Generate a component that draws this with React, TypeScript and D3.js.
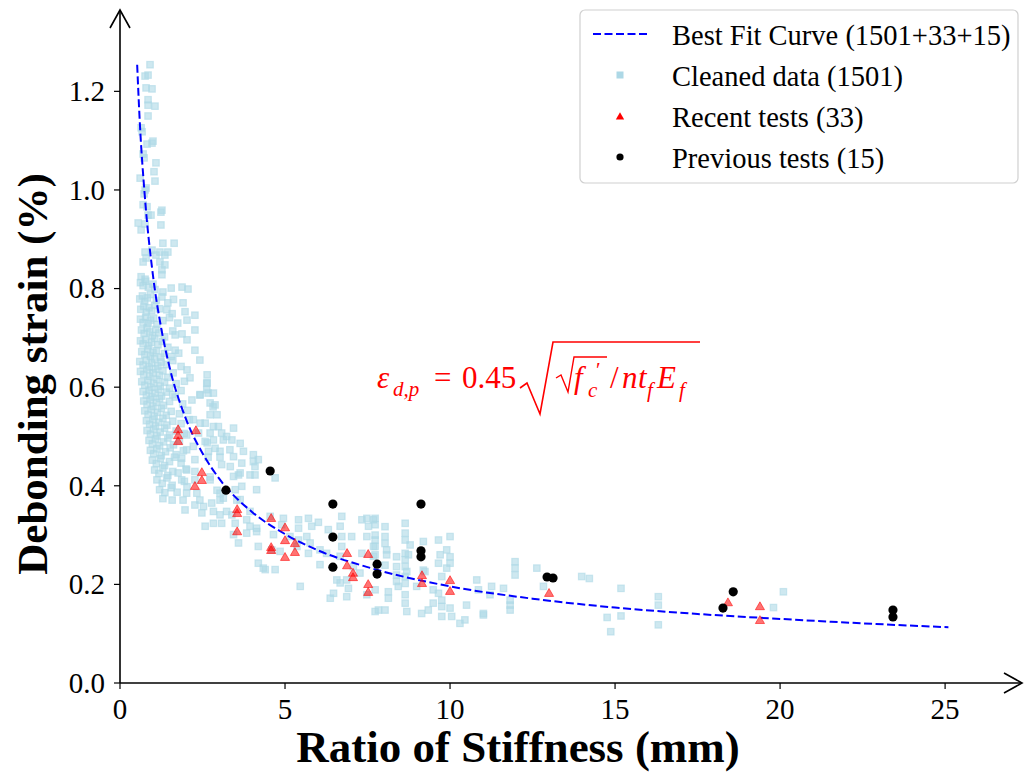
import React from 'react';
import * as d3 from 'd3';

// Cleaned data (light blue squares)
const cleanedData: [number, number][] = [
  // top of the cloud
  [0.91,1.254],[0.76,1.231],[0.85,1.233],[0.79,1.207],[0.97,1.205],[0.85,1.183],[0.85,1.172],[1.06,1.170],
  [0.85,1.150],[0.64,1.126],[0.67,1.118],[0.82,1.093],[0.97,1.095],[1.0,1.099],[0.70,1.073],[0.73,1.065],
  [1.09,1.055],[1.03,1.037],[1.06,1.018],[0.61,1.024],[0.79,1.004],[0.73,0.992],[0.76,1.000],[0.70,0.970],
  [0.82,0.966],[0.85,0.949],[0.94,0.949],[1.24,0.955],[1.27,0.959],[1.24,0.929],[0.55,0.933],[0.64,0.919],
  [0.76,0.931],[1.30,0.892],[1.64,0.892],[0.76,0.874],[0.97,0.878],[1.09,0.868],[1.21,0.874],[1.36,0.868],
  [1.45,0.874],[0.70,0.854],[0.79,0.862],[1.21,0.854],[1.36,0.848],[1.27,0.838],[1.27,0.828],[0.64,0.824],[0.76,0.819],
  // dense core
  [0.62,0.812],[0.70,0.806],[0.78,0.815],[0.86,0.803],[1.0,0.809],[1.06,0.798],[1.30,0.793],[1.55,0.801],[1.88,0.803],[2.06,0.799],
  [0.60,0.779],[0.68,0.785],[0.75,0.774],[0.83,0.781],[0.92,0.788],[1.10,0.776],[1.27,0.783],[1.45,0.771],[1.62,0.778],[1.91,0.771],
  [0.63,0.758],[0.72,0.764],[0.80,0.752],[0.88,0.761],[0.96,0.755],[1.05,0.766],[1.20,0.759],[1.42,0.757],[1.58,0.749],[1.97,0.753],[2.27,0.746],
  [0.62,0.738],[0.70,0.731],[0.78,0.742],[0.85,0.729],[0.93,0.736],[1.02,0.740],[1.12,0.727],[1.30,0.735],[1.50,0.741],[1.75,0.730],[2.03,0.736],
  [0.65,0.716],[0.73,0.709],[0.82,0.720],[0.90,0.712],[0.98,0.705],[1.08,0.717],[1.18,0.710],[1.35,0.702],[1.60,0.714],[1.88,0.708],[2.27,0.716],
  [0.62,0.694],[0.70,0.688],[0.78,0.697],[0.87,0.684],[0.95,0.691],[1.05,0.699],[1.15,0.686],[1.28,0.693],[1.45,0.681],[1.67,0.706],[2.03,0.696],[1.67,0.675],
  [0.66,0.672],[0.75,0.666],[0.84,0.677],[0.92,0.663],[1.00,0.670],[1.10,0.674],[1.22,0.661],[1.35,0.668],[1.55,0.662],[1.78,0.669],[2.27,0.675],
  [0.60,0.652],[0.70,0.645],[0.80,0.655],[0.88,0.641],[0.96,0.649],[1.05,0.657],[1.15,0.643],[1.25,0.651],[1.40,0.646],[1.60,0.654],[1.85,0.642],[2.42,0.655],
  [0.62,0.632],[0.72,0.626],[0.82,0.636],[0.90,0.622],[1.00,0.629],[1.08,0.637],[1.20,0.624],[1.30,0.633],[1.45,0.620],[1.61,0.629],[2.03,0.635],[2.12,0.619],[2.64,0.625],
  [0.66,0.611],[0.75,0.604],[0.85,0.614],[0.94,0.600],[1.02,0.608],[1.12,0.616],[1.22,0.602],[1.35,0.610],[1.50,0.598],[1.70,0.607],[1.95,0.612],[2.64,0.609],
  [0.70,0.591],[0.80,0.584],[0.88,0.594],[0.97,0.580],[1.06,0.588],[1.16,0.596],[1.26,0.582],[1.40,0.590],[1.60,0.585],[1.85,0.593],[2.42,0.584],[2.67,0.588],
  [0.72,0.572],[0.82,0.565],[0.92,0.575],[1.00,0.561],[1.10,0.569],[1.20,0.577],[1.32,0.563],[1.50,0.571],[1.67,0.580],[1.90,0.566],[2.18,0.574],[2.73,0.568],
  [0.75,0.552],[0.85,0.545],[0.95,0.555],[1.04,0.541],[1.14,0.549],[1.25,0.557],[1.40,0.543],[1.55,0.551],[1.80,0.546],[2.05,0.553],[2.82,0.560],[2.94,0.544],
  [0.80,0.532],[0.90,0.525],[1.00,0.535],[1.08,0.521],[1.18,0.529],[1.30,0.537],[1.42,0.523],[1.60,0.531],[1.85,0.526],[2.10,0.534],
  [0.82,0.512],[0.92,0.505],[1.02,0.515],[1.12,0.501],[1.22,0.509],[1.35,0.517],[1.50,0.503],[1.70,0.511],[1.95,0.506],
  [0.88,0.492],[0.98,0.485],[1.08,0.495],[1.20,0.481],[1.32,0.489],[1.45,0.497],[1.62,0.483],[1.80,0.491],[2.64,0.487],
  [0.92,0.472],[1.02,0.465],[1.12,0.475],[1.25,0.461],[1.38,0.469],[1.52,0.477],[1.70,0.463],[1.92,0.471],
  [0.98,0.452],[1.10,0.445],[1.22,0.455],[1.35,0.441],[1.50,0.449],[1.65,0.458],[1.85,0.446],[2.67,0.458],[3.03,0.458],
  [1.05,0.432],[1.18,0.425],[1.30,0.436],[1.45,0.421],[1.60,0.429],[1.76,0.426],[2.0,0.434],
  [1.12,0.412],[1.28,0.405],[1.42,0.416],[1.58,0.401],[1.95,0.409],[2.73,0.418],
  [1.20,0.392],[1.36,0.386],[1.55,0.396],[1.73,0.387],[2.03,0.398],[2.94,0.391],
  [1.30,0.374],[1.58,0.371],[1.91,0.371],[2.42,0.371],
  [3.33,0.473],[3.64,0.486],[4.04,0.463],[4.09,0.439],[3.64,0.426],[3.03,0.371],[3.54,0.371],
  // knee of the curve
  [2.63,0.608],[2.63,0.595],[2.83,0.588],[2.43,0.585],[2.88,0.564],[2.73,0.544],[2.22,0.534],[2.43,0.527],
  [2.58,0.527],[2.83,0.520],[2.98,0.520],[3.44,0.517],[2.38,0.507],[2.73,0.507],[3.08,0.507],[3.23,0.500],
  [2.02,0.503],[2.58,0.490],[2.83,0.493],[3.13,0.493],[3.39,0.493],[2.22,0.480],[2.88,0.476],[2.02,0.473],
  [2.68,0.470],[3.03,0.470],[3.74,0.470],[3.44,0.459],[4.04,0.449],[4.19,0.453],[3.69,0.446],[1.87,0.456],
  [2.27,0.453],[3.08,0.443],[3.34,0.439],[2.02,0.432],[1.87,0.412],[2.27,0.429],[3.59,0.422],[3.94,0.422],
  [4.09,0.422],[4.70,0.416],[3.44,0.419],[2.27,0.412],[2.73,0.412],[4.14,0.392],[3.69,0.399],[3.49,0.392],
  [2.02,0.385],[2.33,0.385],[3.03,0.385],[2.78,0.365],[3.13,0.375],[3.64,0.372],[2.27,0.361],[2.53,0.358],
  [1.97,0.351],[2.83,0.348],[3.23,0.348],[3.94,0.348],[2.48,0.345],[3.03,0.341],[3.39,0.341],[3.84,0.331],
  [2.58,0.318],[3.08,0.324],[3.49,0.324],[2.83,0.324],[3.94,0.318],[4.14,0.314],[4.55,0.338],[4.95,0.334],
  [4.90,0.321],[5.41,0.331],[5.71,0.334],[6.01,0.326],[5.41,0.314],[5.81,0.318],[6.31,0.311],[3.44,0.301],
  [4.14,0.307],[3.84,0.304],[3.59,0.284],[4.65,0.301],[5.15,0.297],[5.66,0.297],[5.41,0.290],[5.76,0.284],
  [4.19,0.277],[4.60,0.270],[4.85,0.267],[5.36,0.277],[5.71,0.263],[6.06,0.270],[6.06,0.240],[6.26,0.263],
  [6.72,0.338],[7.02,0.297],[6.67,0.318],[6.72,0.297],[6.72,0.277],[6.67,0.257],[7.33,0.331],[7.48,0.334],
  [7.68,0.331],[7.53,0.318],[7.48,0.297],[7.68,0.277],[7.33,0.263],[7.68,0.257],[7.07,0.236],[7.27,0.223],
  [6.87,0.209],[6.47,0.182],[6.37,0.172],[6.87,0.175],[7.83,0.148],[4.19,0.243],[4.40,0.230],[4.70,0.230],
  [5.46,0.196],[6.57,0.209],[6.92,0.192],[7.48,0.179],[4.34,0.233],[6.67,0.203],[8.03,0.148],
  // middle band
  [7.73,0.334],[7.73,0.321],[7.73,0.300],[7.73,0.290],[7.73,0.277],[7.73,0.260],[8.03,0.317],[8.03,0.297],
  [8.03,0.283],[8.08,0.270],[8.08,0.260],[8.03,0.239],[8.38,0.236],[8.38,0.219],[8.38,0.206],[8.43,0.196],
  [8.13,0.185],[8.13,0.172],[7.73,0.189],[7.73,0.145],[8.64,0.324],[8.64,0.304],[8.64,0.290],[8.79,0.280],
  [8.64,0.263],[8.74,0.260],[8.64,0.250],[8.64,0.236],[8.69,0.226],[8.64,0.216],[8.64,0.202],[8.64,0.179],
  [8.64,0.162],[8.69,0.145],[9.19,0.287],[9.19,0.229],[9.14,0.141],[9.34,0.148],[9.49,0.189],[9.65,0.290],
  [10.0,0.297],[9.90,0.270],[9.70,0.260],[10.0,0.256],[10.0,0.243],[9.65,0.243],[9.75,0.216],[9.65,0.182],
  [9.75,0.168],[9.75,0.155],[10.0,0.152],[9.75,0.135],[10.05,0.135],[10.3,0.121],[10.45,0.128],[10.5,0.158],
  [10.81,0.209],[10.86,0.189],[11.01,0.141],[11.01,0.138],[11.26,0.196],[11.21,0.179],[11.62,0.192],[11.82,0.168],
  [11.82,0.158],[11.82,0.148],[11.97,0.246],[11.97,0.233],[11.97,0.219],[12.63,0.233],[12.83,0.196],[9.24,0.226],
  [8.38,0.256],[9.49,0.162],[8.99,0.196],[9.90,0.233],
  // right tail
  [13.99,0.216],[14.22,0.212],[15.18,0.192],[15.18,0.136],[14.76,0.133],[14.87,0.104],[16.31,0.175],[16.31,0.158],
  [16.31,0.118],[19.80,0.153],[20.10,0.185]
];

// Recent tests (red triangles)
const recentTests: [number, number][] = [
  [1.76,0.515],[1.76,0.503],[1.76,0.491],[2.30,0.513],[2.48,0.428],[2.48,0.412],[2.27,0.400],[3.55,0.345],
  [3.55,0.308],[4.58,0.335],[4.58,0.276],[4.58,0.270],[5.0,0.316],[5.0,0.290],[5.30,0.284],[5.30,0.266],
  [5.0,0.256],[6.88,0.264],[6.88,0.239],[7.06,0.215],[7.06,0.224],[7.52,0.262],[7.52,0.201],[7.52,0.185],
  [9.15,0.219],[9.15,0.203],[10.0,0.209],[10.0,0.187],[13.0,0.183],[18.42,0.164],[19.39,0.156],[19.39,0.128],
  [3.55,0.353]
];

// Previous tests (black dots)
const previousTests: [number, number][] = [
  [3.21,0.391],[4.55,0.430],[6.45,0.363],[6.45,0.296],[6.45,0.235],[7.79,0.241],[7.79,0.221],[9.12,0.363],
  [9.12,0.268],[9.12,0.256],[12.94,0.215],[13.12,0.213],[18.27,0.152],[18.58,0.185],[23.42,0.148],[23.42,0.134]
];

// Best fit curve
const fitCurve: [number, number][] = [
  [0.52,1.254],[0.6,1.137],[0.75,0.989],[1.0,0.826],[1.25,0.719],[1.5,0.641],[2.0,0.535],[2.5,0.466],
  [3.0,0.415],[4.0,0.347],[5.0,0.302],[6.0,0.269],[7.5,0.235],[10.0,0.196],[12.5,0.171],[15.0,0.153],
  [17.5,0.140],[20.0,0.130],[22.5,0.121],[25.1,0.113]
];

const xTicks = [0, 5, 10, 15, 20, 25];
const yTicks = [0.0, 0.2, 0.4, 0.6, 0.8, 1.0, 1.2];
const legendLabels = ['Best Fit Curve (1501+33+15)', 'Cleaned data (1501)', 'Recent tests (33)', 'Previous tests (15)'];
const xTitle = 'Ratio of Stiffness (mm)';
const yTitle = 'Debonding strain (%)';

const SERIF = '"Liberation Serif", "Times New Roman", Times, serif';
const BLUE_SQ = '#add8e6';

export default function App() {
  const W = 1026, H = 772;
  const x = d3.scaleLinear().domain([0, 27.33]).range([120, 1022]);
  const y = d3.scaleLinear().domain([0, 1.365]).range([683, 10]);
  const line = d3.line<[number, number]>().x(d => x(d[0])).y(d => y(d[1])).curve(d3.curveMonotoneX);
  const tri = d3.symbol().type(d3.symbolTriangle).size(36)() as string;
  const triLeg = d3.symbol().type(d3.symbolTriangle).size(30)() as string;
  const sq = 6.5;
  const x0 = x(0), y0 = y(0);
  const xEnd = x.range()[1], yTop = y.range()[1];

  return (
    <svg width={W} height={H} style={{ position: 'absolute', left: 0, top: 0, background: '#fff' }} xmlns="http://www.w3.org/2000/svg">
      <rect x={0} y={0} width={W} height={H} fill="#fff" />
      {/* cleaned data */}
      <g>
        {cleanedData.map((d, i) => (
          <rect key={i} x={x(d[0]) - sq / 2} y={y(d[1]) - sq / 2} width={sq} height={sq}
            fill={BLUE_SQ} fillOpacity={0.6} stroke={BLUE_SQ} strokeOpacity={0.6} strokeWidth={1.2} />
        ))}
      </g>
      {/* fit curve */}
      <path d={line(fitCurve) || ''} fill="none" stroke="#0000ff" strokeWidth={2} strokeDasharray="8,3.5" />
      {/* recent tests */}
      <g>
        {recentTests.map((d, i) => (
          <path key={i} d={tri} transform={`translate(${x(d[0])},${y(d[1]) + 1})`}
            fill="#ff0000" fillOpacity={0.55} stroke="#ff0000" strokeOpacity={0.55} strokeWidth={1} />
        ))}
      </g>
      {/* previous tests */}
      <g>
        {previousTests.map((d, i) => (
          <circle key={i} cx={x(d[0])} cy={y(d[1])} r={4.6} fill="#000" />
        ))}
      </g>
      {/* axes */}
      <g stroke="#000" strokeWidth={1.6} fill="none">
        <line x1={x0} y1={y0} x2={x0} y2={yTop} />
        <line x1={x0} y1={y0} x2={xEnd} y2={y0} />
        <polyline points={`${x0 - 10},${yTop + 18} ${x0},${yTop} ${x0 + 10},${yTop + 18}`} />
        <polyline points={`${xEnd - 18},${y0 - 10} ${xEnd},${y0} ${xEnd - 18},${y0 + 10}`} />
      </g>
      {/* y ticks */}
      <g>
        {yTicks.map(t => (
          <g key={t}>
            <line x1={x0 - 6} x2={x0} y1={y(t)} y2={y(t)} stroke="#000" strokeWidth={1.2} />
            <text x={x0 - 15} y={y(t)} dy="0.34em" textAnchor="end" fontFamily={SERIF} fontSize={29}>{t.toFixed(1)}</text>
          </g>
        ))}
      </g>
      {/* x ticks */}
      <g>
        {xTicks.map(t => (
          <g key={t}>
            <line x1={x(t)} x2={x(t)} y1={y0} y2={y0 + 6} stroke="#000" strokeWidth={1.2} />
            <text x={x(t)} y={y0 + 36} textAnchor="middle" fontFamily={SERIF} fontSize={29}>{t}</text>
          </g>
        ))}
      </g>
      {/* axis titles */}
      <text x={518} y={762} textAnchor="middle" fontFamily={SERIF} fontSize={45} fontWeight="bold">{xTitle}</text>
      <text transform="translate(47,374) rotate(-90)" textAnchor="middle" fontFamily={SERIF} fontSize={43} fontWeight="bold">{yTitle}</text>
      {/* equation */}
      <g fill="#ff0000" fontFamily={SERIF}>
        <text x={377} y={388} fontSize={31} fontStyle="italic">ε</text>
        <text x={393} y={396} fontSize={21} fontStyle="italic">d,p</text>
        <text x={434} y={388} fontSize={31}>=</text>
        <text x={462} y={388} fontSize={31}>0.45</text>
        <path d="M520,388 L527,383 L540,414 L553,342 L700,342" fill="none" stroke="#ff0000" strokeWidth={1.6} />
        <path d="M556,378 L561,375 L568,392 L574,357 L607,357" fill="none" stroke="#ff0000" strokeWidth={1.4} />
        <text x={574} y={388} fontSize={31} fontStyle="italic">f</text>
        <text x={588} y={397} fontSize={21} fontStyle="italic">c</text>
        <text x={596} y={377} fontSize={21}>′</text>
        <text x={610} y={388} fontSize={31}>/</text>
        <text x={622} y={388} fontSize={31} fontStyle="italic">n</text>
        <text x={638} y={388} fontSize={31} fontStyle="italic">t</text>
        <text x={647} y={397} fontSize={21} fontStyle="italic">f</text>
        <text x={657} y={388} fontSize={31} fontStyle="italic">E</text>
        <text x={679} y={397} fontSize={21} fontStyle="italic">f</text>
      </g>
      {/* legend */}
      <g>
        <rect x={580} y={10} width={438} height={173} rx={5} fill="#fff" fillOpacity={0.8} stroke="#d0d0d0" strokeWidth={1.2} />
        <line x1={593} x2={648} y1={34} y2={34} stroke="#0000ff" strokeWidth={2} strokeDasharray="8,3.5" />
        <rect x={620 - 3.5} y={75 - 3.5} width={7} height={7} fill={BLUE_SQ} />
        <path d={triLeg} transform="translate(620,117)" fill="#ff0000" />
        <circle cx={620} cy={157} r={3.6} fill="#000" />
        {legendLabels.map((l, i) => (
          <text key={l} x={672} y={45 + i * 41} fontFamily={SERIF} fontSize={28.5}>{l}</text>
        ))}
      </g>
    </svg>
  );
}
